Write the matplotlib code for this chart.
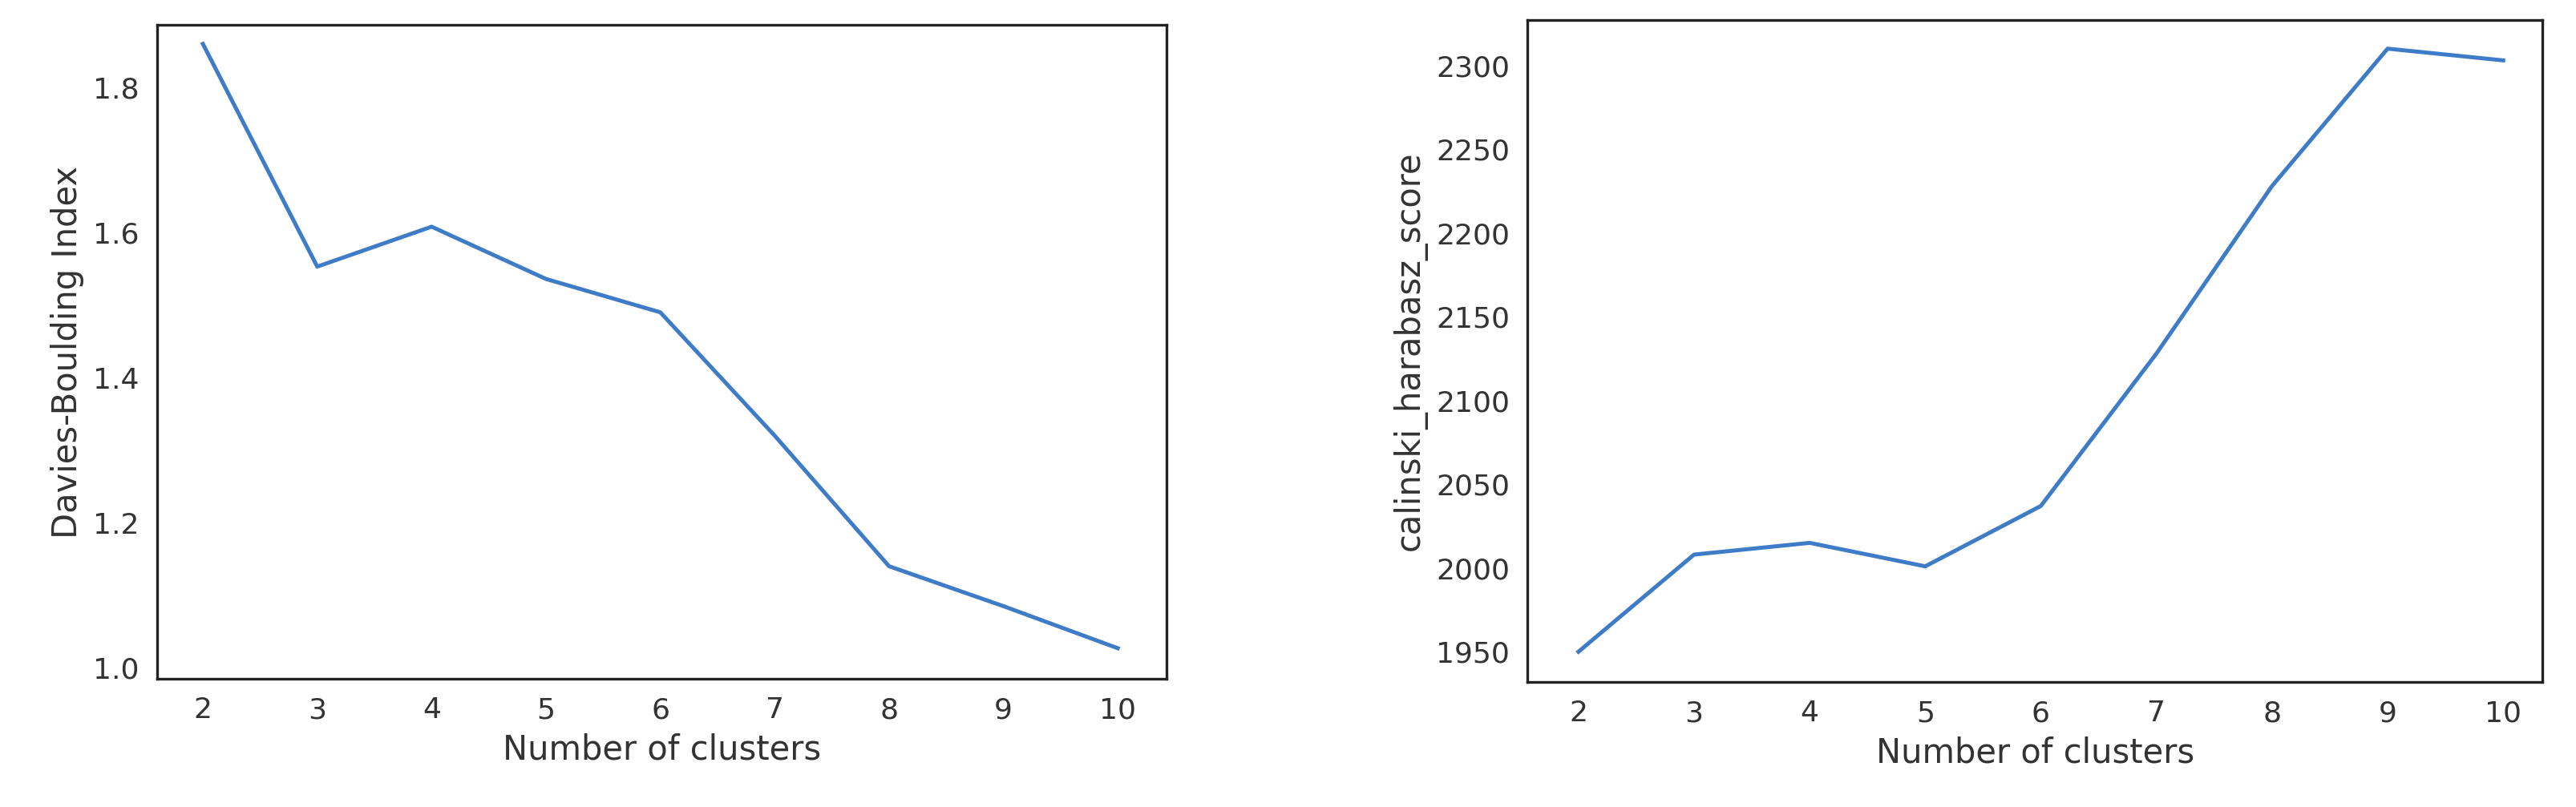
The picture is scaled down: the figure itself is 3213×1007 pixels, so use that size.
import matplotlib
matplotlib.use("Agg")
import matplotlib.pyplot as plt

clusters = [2, 3, 4, 5, 6, 7, 8, 9, 10]
db_index = [1.86, 1.553, 1.608, 1.536, 1.49, 1.32, 1.14, 1.085, 1.027]
ch_score = [1950, 2008, 2015, 2001, 2037, 2128, 2228, 2310, 2303]

plt.rcParams['font.family'] = ['DejaVu Sans']
fig = plt.figure(figsize=(16.065, 5.035), dpi=200)
ax1 = fig.add_axes([0.061, 0.159, 0.392, 0.81])
ax2 = fig.add_axes([0.593, 0.155, 0.394, 0.82])
color = "#3f7cc8"
txt = "#333333"
for ax, y, lab in [(ax1, db_index, "Davies-Boulding Index"), (ax2, ch_score, "calinski_harabasz_score")]:
    ax.plot(clusters, y, color=color, lw=1.8)
    ax.set_xlabel("Number of clusters", fontsize=15, color=txt)
    ax.set_ylabel(lab, fontsize=15, color=txt)
    ax.set_xticks(clusters)
    ax.tick_params(labelsize=13, colors=txt, length=0, pad=8)
    for s in ax.spines.values():
        s.set_color("#222222"); s.set_linewidth(1.2)
ax1.set_xlim(1.6, 10.43); ax1.set_ylim(0.985, 1.886)
ax1.set_yticks([1.0, 1.2, 1.4, 1.6, 1.8])
ax2.set_xlim(1.56, 10.34); ax2.set_ylim(1932, 2327)
ax2.set_yticks(range(1950, 2301, 50))
fig.savefig("out.png", dpi=200)
